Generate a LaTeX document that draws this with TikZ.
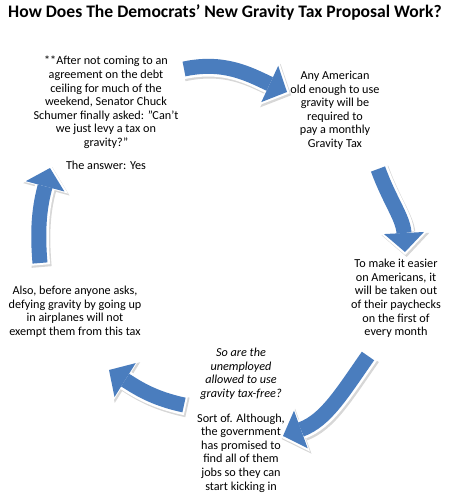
\documentclass[tikz,border=0pt]{standalone}
\usepackage{fontspec}
\setmainfont{Carlito}
\usepackage{tikz}
\usetikzlibrary{arrows.meta, positioning}
\definecolor{arrowblue}{RGB}{74, 125, 190}
\definecolor{shadowgray}{RGB}{140, 140, 140}
\newcommand{\dq}{\symbol{"22}}

\begin{document}
\begin{tikzpicture}[
        x=1pt, y=1pt,
        txt/.style={align=center, font=\fontsize{12.2}{13.6}\selectfont, inner sep=0pt, anchor=north},
        cyclearrow/.style={
            preaction={draw=shadowgray, opacity=0.35, line width=20pt,
                transform canvas={shift={(1.5pt,-2pt)}},
                -{Triangle[width=48pt, length=23pt, line width=0pt]},
                shorten >=-3pt, shorten <=-2pt},
            preaction={draw=white, line width=20pt,
                -{Triangle[width=48pt, length=23pt, line width=0pt]},
                shorten >=-3pt, shorten <=-2pt},
            draw=arrowblue, line width=15pt,
            -{Triangle[width=40pt, length=19pt, line width=0pt]}
        }
    ]
    \useasboundingbox (0,0) rectangle (449,-500);

    % Title
    \node[font=\fontsize{17.6}{20}\selectfont\bfseries] (title) at (225,-12)
        {How Does The Democrats’ New Gravity Tax Proposal Work?};

    % Text blocks around the cycle
    \node[txt] (schumer) at (106,-56) {**After not coming to an\\ agreement on the debt\\
        ceiling for much of the\\ weekend, Senator Chuck\\ Schumer finally asked: \dq Can’t\\
        we just levy a tax on\\ gravity?\dq\\[9pt] The answer: Yes};
    \node[txt] (monthly) at (335,-71) {Any American\\ old enough to use\\ gravity will be\\
        required to\\ pay a monthly\\ Gravity Tax};
    \node[txt] (paycheck) at (396,-259) {To make it easier\\ on Americans, it\\
        will be taken out\\ of their paychecks\\ on the first of\\ every month};
    \node[txt] (jobless) at (241,-348) {\itshape So are the\\ \itshape unemployed\\
        \itshape allowed to use\\ \itshape gravity tax-free?\\[11pt] Sort of. Although,\\
        the government\\ has promised to\\ find all of them\\ jobs so they can\\ start kicking in};
    \node[txt] (airplane) at (75,-286) {Also, before anyone asks,\\ defying gravity by going up\\
        in airplanes will not\\ exempt them from this tax};

    % Arrow ends
    \coordinate (a1s) at (184,-69);  \coordinate (a1e) at (287,-92);
    \coordinate (a2s) at (378,-169); \coordinate (a2e) at (405,-252);
    \coordinate (a3s) at (368,-356); \coordinate (a3e) at (283,-436);
    \coordinate (a4s) at (184,-405); \coordinate (a4e) at (109,-370);
    \coordinate (a5s) at (40,-263);  \coordinate (a5e) at (50,-168);

    % Cycle arrows
    \draw[cyclearrow] (a1s) to[out=12, in=155] (a1e);
    \draw[cyclearrow] (a2s) to[out=-70, in=93] (a2e);
    \draw[cyclearrow] (a3s) to[out=-125, in=20] (a3e);
    \draw[cyclearrow] (a4s) to[out=168, in=-32] (a4e);
    \draw[cyclearrow] (a5s) to[out=95, in=-105] (a5e);
\end{tikzpicture}
\end{document}
